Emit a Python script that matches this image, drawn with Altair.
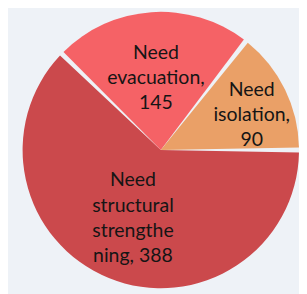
import math
import altair as alt
import pandas as pd

categories = ["Need structural strengthening", "Need evacuation", "Need isolation"]
values = [388, 145, 90]
labels = ["Need\nstructural\nstrengthe\nning, 388", "Need\nevacuation,\n145", "Need\nisolation,\n90"]
colors = ["#CB494C", "#F56266", "#EAA067"]
label_radius = [76, 74, 100]
label_angle_shift = [0, 0, 5]
line_height = 26

df = pd.DataFrame({
    "category": categories,
    "value": values,
    "label": labels,
    "idx": list(range(len(categories))),
    "lr": label_radius,
    "shift": label_angle_shift,
})

start = math.pi / 2
theta = alt.Theta("value:Q", stack=True,
                  scale=alt.Scale(range=[start, start + 2 * math.pi]))
cx, cy = 157, 142

base = alt.Chart(df)

arcs = base.mark_arc(outerRadius=142, padAngle=0.036).encode(
    theta=theta,
    order=alt.Order("idx:Q"),
    color=alt.Color("category:N", scale=alt.Scale(domain=categories, range=colors), legend=None),
    x=alt.value(cx),
    y=alt.value(cy),
)

texts = base.transform_window(
    cum="sum(value)", sort=[alt.SortField("idx")]
).transform_joinaggregate(
    total="sum(value)"
).transform_calculate(
    ang=f"{start} + 2*PI*(datum.cum - datum.value/2)/datum.total + datum.shift*PI/180",
    nlines="length(split(datum.label, '\\n'))",
).transform_calculate(
    px=f"{cx} + datum.lr*sin(datum.ang)",
    py=f"{cy} - datum.lr*cos(datum.ang) - (datum.nlines - 1)*{line_height}/2",
).mark_text(font="Lato", fontSize=20, lineBreak="\n", lineHeight=line_height,
            align="center", baseline="middle", color="#151515").encode(
    x=alt.X("px:Q", scale=None),
    y=alt.Y("py:Q", scale=None),
    text="label:N",
)

chart = (arcs + texts).properties(
    width=299, height=286,
    autosize=alt.AutoSizeParams(type="none"),
    padding=0,
    background="#EEF2F7",
).configure_view(stroke=None)

chart.save("out.html", embed_options={"renderer": "svg", "actions": False})
